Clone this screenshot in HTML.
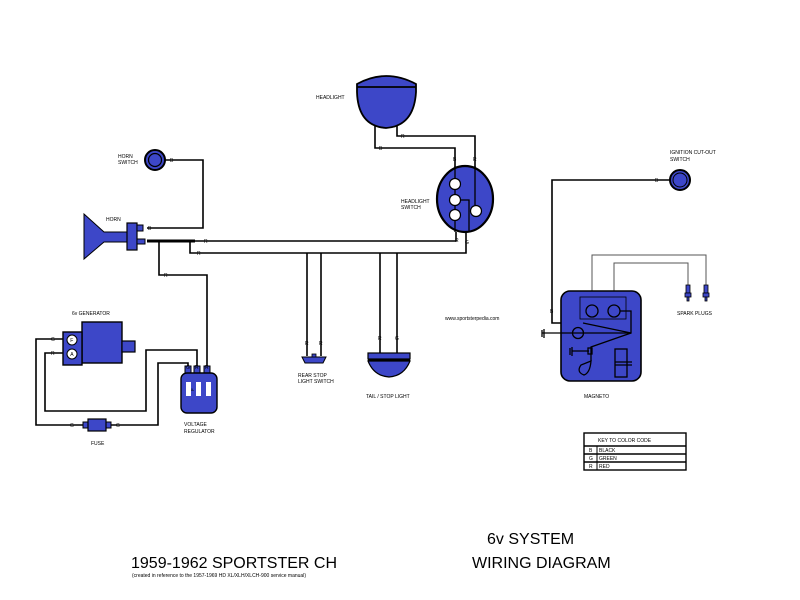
<!DOCTYPE html>
<html><head><style>
html,body{margin:0;padding:0;background:#fff;}
svg{display:block;}
text{font-family:"Liberation Sans",sans-serif;fill:#000;}
.s{font-size:5px;}
</style></head><body>
<svg width="800" height="600" viewBox="0 0 800 600" xmlns="http://www.w3.org/2000/svg">
<g fill="none" stroke="#000" stroke-width="1.6">
<!-- horn switch wire -->
<polyline points="165,160 203,160 203,228 147,228"/>
<!-- main R wire -->
<polyline points="147,241 456,241 456,232"/>
<line x1="147" y1="241" x2="195" y2="241" stroke-width="3"/>
<polyline points="190,241 190,253 466,253 466,232"/>
<polyline points="159,241 159,275 207,275 207,367"/>
<!-- rear stop switch & tail -->
<line x1="307" y1="253" x2="307" y2="356"/>
<line x1="321" y1="253" x2="321" y2="356"/>
<line x1="380" y1="253" x2="380" y2="354"/>
<line x1="397" y1="253" x2="397" y2="354"/>
<!-- headlight wires -->
<polyline points="375,125 375,148 455,148 455,178"/>
<polyline points="397,125 397,136 475,136 475,205"/>
<!-- ignition -->
<polyline points="670,180 552,180 552,323 578,323"/>
<!-- generator wires -->
<polyline points="64,339 36,339 36,425 86,425"/>
<polyline points="108,425 158,425 158,363 188,363 188,368"/>
<polyline points="64,353 45,353 45,411 146,411 146,350 197,350 197,368"/>
</g>
<!-- horn switch -->
<circle cx="155" cy="160" r="10" fill="#3d47c8" stroke="#000" stroke-width="2"/>
<circle cx="155" cy="160" r="6.5" fill="none" stroke="#000" stroke-width="1.2"/>
<!-- horn -->
<polygon points="84,214 104,232 128,232 128,242 104,242 84,259" fill="#3d47c8" stroke="#000" stroke-width="1"/>
<rect x="127" y="223" width="10" height="27" fill="#3d47c8" stroke="#000" stroke-width="1.2"/>
<rect x="137" y="225" width="6" height="6" fill="#3d47c8" stroke="#000"/>
<rect x="137" y="239" width="8" height="5" fill="#3d47c8" stroke="#000"/>
<!-- headlight -->
<path d="M357,84 Q386,68 416,84 L416,92 Q414,126 386,128 Q358,126 357,92 Z" fill="#3d47c8" stroke="#000" stroke-width="1.8"/>
<line x1="357" y1="87" x2="416" y2="87" stroke="#000" stroke-width="1.8"/>
<!-- headlight switch -->
<ellipse cx="465" cy="199" rx="28" ry="33" fill="#3d47c8" stroke="#000" stroke-width="2.2"/>
<g fill="none" stroke="#000" stroke-width="1.3">
<line x1="455" y1="166" x2="455" y2="232"/>
<polyline points="461,200 469,200 469,232"/>
<line x1="475" y1="166" x2="475" y2="205"/>
</g>
<g fill="#fff" stroke="#000" stroke-width="1.2">
<circle cx="455" cy="184" r="5.5"/><circle cx="455" cy="200" r="5.5"/><circle cx="455" cy="215" r="5.5"/><circle cx="476" cy="211" r="5.5"/>
</g>
<!-- rear stop switch -->
<path d="M302,357 L326,357 L323,363 L305,363 Z" fill="#3d47c8" stroke="#000"/>
<rect x="312" y="354" width="4" height="3" fill="#3d47c8" stroke="#000" stroke-width="0.8"/>
<!-- tail light -->
<rect x="368" y="353" width="42" height="6" fill="#3d47c8" stroke="#000" stroke-width="1.2"/>
<path d="M368,361 L410,361 Q404,376 389,377 Q374,376 368,361 Z" fill="#3d47c8" stroke="#000" stroke-width="1.2"/>
<line x1="368" y1="360" x2="410" y2="360" stroke="#000" stroke-width="1.5"/>
<!-- ignition switch -->
<circle cx="680" cy="180" r="10" fill="#3d47c8" stroke="#000" stroke-width="2"/>
<circle cx="680" cy="180" r="7" fill="none" stroke="#000" stroke-width="1"/>
<!-- spark plug wires -->
<g fill="none" stroke="#555" stroke-width="1">
<polyline points="592,305 592,255 706,255 706,285"/>
<polyline points="614,305 614,263 688,263 688,285"/>
</g>
<g fill="#3d47c8" stroke="#000" stroke-width="0.8">
<rect x="686" y="285" width="4" height="8"/><rect x="685" y="293" width="6" height="4"/><rect x="687" y="297" width="2" height="4"/>
<rect x="704" y="285" width="4" height="8"/><rect x="703" y="293" width="6" height="4"/><rect x="705" y="297" width="2" height="4"/>
</g>
<!-- magneto -->
<rect x="561" y="291" width="80" height="90" rx="9" fill="#3d47c8" stroke="#000" stroke-width="1.6"/>
<rect x="580" y="297" width="46" height="22" fill="none" stroke="#000" stroke-width="0.8"/>
<g fill="none" stroke="#000" stroke-width="1.3">
<circle cx="592" cy="311" r="6"/><circle cx="614" cy="311" r="6"/>
<polyline points="620,311 631,311 631,333 627,333"/>
<line x1="583" y1="323" x2="631" y2="333"/>
<line x1="542" y1="333" x2="631" y2="333"/>
<circle cx="578" cy="333" r="5.5"/>
<polyline points="631,333 591,347 591,361"/>
<line x1="572" y1="351" x2="589" y2="351"/>
<rect x="588" y="348" width="4" height="6"/>
<path d="M591,361 Q590,373 584,375 Q576,372 581,365 Z"/>
<rect x="615" y="349" width="12" height="28"/>
<line x1="615" y1="362" x2="632" y2="362"/>
<line x1="615" y1="365" x2="632" y2="365"/>
<line x1="542" y1="330" x2="542" y2="337"/><line x1="544" y1="329" x2="544" y2="338"/>
<line x1="570" y1="348" x2="570" y2="355"/><line x1="572" y1="347" x2="572" y2="356"/>
</g>
<!-- generator -->
<rect x="82" y="322" width="40" height="41" fill="#3d47c8" stroke="#000" stroke-width="1.4"/>
<rect x="63" y="332" width="19" height="33" fill="#3d47c8" stroke="#000" stroke-width="1.4"/>
<rect x="122" y="341" width="13" height="11" fill="#3d47c8" stroke="#000" stroke-width="1.2"/>
<circle cx="72" cy="340" r="5" fill="#fff" stroke="#000"/>
<circle cx="72" cy="354" r="5" fill="#fff" stroke="#000"/>
<text x="70.3" y="341.8" style="font-size:5px">F</text><text x="70.3" y="355.8" style="font-size:5px">A</text>
<!-- fuse -->
<rect x="83" y="422" width="5" height="6" fill="#3d47c8" stroke="#000"/>
<rect x="106" y="422" width="5" height="6" fill="#3d47c8" stroke="#000"/>
<rect x="88" y="419" width="18" height="12" fill="#3d47c8" stroke="#000" stroke-width="1.2"/>
<!-- regulator -->
<rect x="185" y="366" width="6" height="9" fill="#3d47c8" stroke="#000"/>
<rect x="194" y="366" width="6" height="9" fill="#3d47c8" stroke="#000"/>
<rect x="204" y="366" width="6" height="9" fill="#3d47c8" stroke="#000"/>
<rect x="181" y="373" width="36" height="40" rx="6" fill="#3d47c8" stroke="#000" stroke-width="1.4"/>
<rect x="186" y="382" width="5" height="14" fill="#fff"/><rect x="196" y="382" width="5" height="14" fill="#fff"/><rect x="206" y="382" width="5" height="14" fill="#fff"/>
<!-- wire labels -->
<g class="s">
<text x="170" y="162">B</text><text x="148" y="230" >B</text>
<text x="204" y="243">R</text><text x="197" y="255">R</text><text x="164" y="277">R</text>
<text x="379" y="150">B</text><text x="401" y="138">R</text>
<text x="453" y="161">B</text><text x="473" y="161">R</text>
<text x="455" y="242">R</text><text x="465" y="244">G</text>
<text x="305" y="345">R</text><text x="319" y="345">R</text>
<text x="378" y="340">R</text><text x="395" y="340">G</text>
<text x="655" y="182">B</text><text x="550" y="313">B</text>
<text x="51" y="341">G</text><text x="51" y="355">R</text>
<text x="70" y="427">G</text><text x="116" y="427">G</text>
<text x="186" y="369">G</text><text x="195" y="369">R</text><text x="205" y="369">R</text>
</g>
<!-- component labels -->
<g class="s">
<text x="118" y="158">HORN</text><text x="118" y="164">SWITCH</text>
<text x="106" y="221">HORN</text>
<text x="316" y="99">HEADLIGHT</text>
<text x="401" y="203">HEADLIGHT</text><text x="401" y="209">SWITCH</text>
<text x="670" y="154">IGNITION CUT-OUT</text><text x="670" y="161">SWITCH</text>
<text x="72" y="315">6v GENERATOR</text>
<text x="91" y="445">FUSE</text>
<text x="184" y="426">VOLTAGE</text><text x="184" y="433">REGULATOR</text>
<text x="298" y="377">REAR STOP</text><text x="298" y="383">LIGHT SWITCH</text>
<text x="366" y="398">TAIL / STOP LIGHT</text>
<text x="445" y="320">www.sportsterpedia.com</text>
<text x="677" y="315">SPARK PLUGS</text>
<text x="584" y="398">MAGNETO</text>
</g>
<g style="font-size:4.5px" fill="#fff"><text x="187" y="394" transform="rotate(-90 189 389)" fill="#000">F</text></g>
<!-- key table -->
<g fill="none" stroke="#000">
<rect x="584" y="433" width="102" height="37" stroke-width="1.4"/>
<line x1="584" y1="446" x2="686" y2="446" stroke-width="1.4"/>
<line x1="584" y1="454" x2="686" y2="454" stroke-width="1.4"/>
<line x1="584" y1="462" x2="686" y2="462" stroke-width="1.4"/>
<line x1="597" y1="446" x2="597" y2="470"/>
</g>
<g class="s">
<text x="598" y="442">KEY TO COLOR CODE</text>
<text x="589" y="452">B</text><text x="599" y="452">BLACK</text>
<text x="589" y="460">G</text><text x="599" y="460">GREEN</text>
<text x="589" y="468">R</text><text x="599" y="468">RED</text>
</g>
<!-- titles -->
<text x="487" y="544" style="font-size:16px">6v SYSTEM</text>
<text x="472" y="568" style="font-size:16px">WIRING DIAGRAM</text>
<text x="131" y="568" style="font-size:16px">1959-1962 SPORTSTER CH</text>
<text x="132" y="577" style="font-size:5px">(created in reference to the 1957-1969 HD XL/XLH/XLCH-900  service manual)</text>
</svg>
</body></html>
